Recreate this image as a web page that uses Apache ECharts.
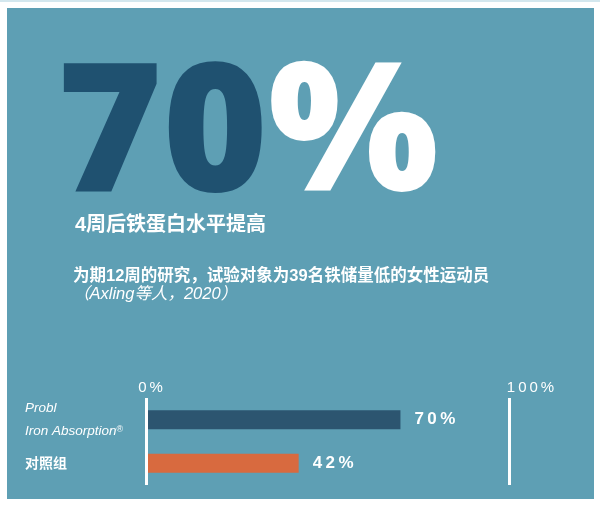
<!DOCTYPE html>
<html>
<head>
<meta charset="utf-8">
<script src="https://cdn.jsdelivr.net/npm/echarts@6/dist/echarts.min.js"></script>
<style>
  html, body { margin: 0; padding: 0; background: #fff; }
  #main { width: 600px; height: 506px; }
</style>
</head>
<body>
<div id="main"></div>
<script>
// data
var categories = ['Probl\nIron Absorption®', '对照组'];
var values = [70, 42];
var tickLabels = { 0: '0%', 100: '100%' };

var latin = '"Liberation Sans", "Noto Sans CJK SC", sans-serif';

function spaced(s) {
  return s.split('').join('\u2009');
}

var chart = echarts.init(document.getElementById('main'));

var option = {
  backgroundColor: '#ffffff',
  animation: false,
  graphic: [
    { type: 'rect', shape: { x: 0, y: 0, width: 600, height: 2 }, style: { fill: '#d3e7ee' }, z: -10 },
    { type: 'rect', shape: { x: 7, y: 8, width: 587, height: 491 }, style: { fill: '#5e9fb4' }, z: -10 },
    {
      type: 'text', x: 57, y: 140,
      style: {
        text: '{a|70}{b|%}',
        verticalAlign: 'middle',
        rich: {
          a: { fontFamily: '"Open Sans", sans-serif', fontWeight: 800, fontSize: 180, fill: '#1f5170' },
          b: { fontFamily: '"Open Sans", sans-serif', fontWeight: 800, fontSize: 180, fill: '#ffffff' }
        }
      }
    },
    {
      type: 'text', x: 75, y: 225,
      style: { text: '4周后铁蛋白水平提高', fontFamily: latin, fontSize: 20, fontWeight: 'bold', fill: '#ffffff', verticalAlign: 'middle' }
    },
    {
      type: 'text', x: 73, y: 276,
      style: { text: '为期12周的研究，试验对象为39名铁储量低的女性运动员', fontFamily: latin, fontSize: 16.5, fontWeight: 'bold', fill: '#ffffff', verticalAlign: 'middle' }
    },
    {
      type: 'text', x: 73, y: 294,
      style: { text: '（Axling等人，2020）', fontFamily: latin, fontSize: 16.5, fontStyle: 'italic', fill: '#ffffff', verticalAlign: 'middle' }
    }
  ],
  grid: { left: 146, right: 90.5, top: 398, height: 87 },
  xAxis: {
    type: 'value',
    position: 'top',
    min: 0,
    max: 100,
    interval: 100,
    z: 3,
    axisLine: { show: false },
    axisTick: { show: false },
    splitLine: { show: true, lineStyle: { color: '#ffffff', width: 3 } },
    axisLabel: {
      margin: 3,
      formatter: function (v) {
        var t = tickLabels[v];
        if (!t) return '';
        return v === 0 ? '{a|' + spaced(t) + '}' : '{b|' + spaced(t) + '}';
      },
      rich: {
        a: { color: '#ffffff', fontFamily: latin, fontSize: 15, padding: [0, 0, 0, 9] },
        b: { color: '#ffffff', fontFamily: latin, fontSize: 15, padding: [0, 0, 0, 42] }
      }
    }
  },
  yAxis: {
    type: 'category',
    inverse: true,
    data: categories,
    axisLine: { show: false },
    axisTick: { show: false },
    axisLabel: {
      align: 'left',
      margin: 121,
      formatter: function (v) {
        if (/[\u4e00-\u9fff]/.test(v)) return '{cn|' + v + '}';
        return v.split('\n').map(function (l) {
          if (l.charAt(l.length - 1) === '®') return '{en|' + l.slice(0, -1) + '}{sup|®}';
          return '{en|' + l + '}';
        }).join('\n');
      },
      rich: {
        en: { color: '#ffffff', fontFamily: latin, fontStyle: 'italic', fontSize: 13.5, lineHeight: 23 },
        sup: { color: '#ffffff', fontFamily: latin, fontSize: 9, lineHeight: 23, padding: [0, 0, 4, 0] },
        cn: { color: '#ffffff', fontFamily: latin, fontWeight: 'bold', fontSize: 14, padding: [2, 0, 0, 0] }
      }
    }
  },
  series: [{
    type: 'bar',
    data: values,
    barWidth: 19,
    itemStyle: {
      color: function (p) {
        return ['#2c5570', '#d86a3f'][p.dataIndex];
      }
    },
    label: {
      show: true,
      position: 'right',
      distance: 14,
      color: '#ffffff',
      fontFamily: latin,
      fontWeight: 'bold',
      fontSize: 17,
      formatter: function (p) {
        return spaced(p.value + '%');
      }
    }
  }]
};

chart.setOption(option);
</script>
</body>
</html>
